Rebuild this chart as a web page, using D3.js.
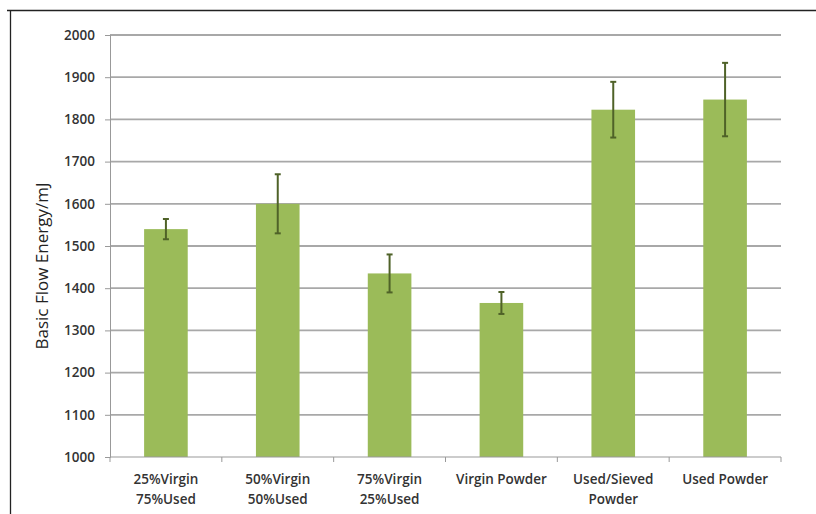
<!DOCTYPE html>
<html>
<head>
<meta charset="utf-8">
<script src="https://cdn.jsdelivr.net/npm/d3@7"></script>
<style>
  html, body { margin: 0; padding: 0; background: #fff; }
  svg { display: block; }
</style>
</head>
<body>
<svg id="chart" width="816" height="514"></svg>
<script>
const categories = [
  ["25%Virgin", "75%Used"],
  ["50%Virgin", "50%Used"],
  ["75%Virgin", "25%Used"],
  ["Virgin Powder"],
  ["Used/Sieved", "Powder"],
  ["Used Powder"]
];
const values = [1540, 1600, 1435, 1365, 1823, 1847];
const errors = [24, 70, 45, 26, 66, 87];
const yTicks = [1000, 1100, 1200, 1300, 1400, 1500, 1600, 1700, 1800, 1900, 2000];
const yTitle = "Basic Flow Energy/mJ";

const svg = d3.select("#chart");
const W = 816, H = 514;
const margin = { left: 110, right: 35, top: 35, bottom: 57 };
const x0 = margin.left, x1 = W - margin.right;
const yTop = margin.top, yBot = H - margin.bottom;

// frame lines (top and left)
svg.append("line").attr("x1", 7).attr("x2", W).attr("y1", 10.5).attr("y2", 10.5)
  .attr("stroke", "#222").attr("stroke-width", 1.3);
svg.append("line").attr("x1", 10.5).attr("x2", 10.5).attr("y1", 10).attr("y2", H)
  .attr("stroke", "#222").attr("stroke-width", 1.3);

const idx = categories.map((d, i) => i);
const x = d3.scaleBand().domain(idx).range([x0, x1]).paddingInner(0.61).paddingOuter(0.305);
const xb = d3.scaleBand().domain(idx).range([x0, x1]);
const y = d3.scaleLinear().domain([1000, 2000]).range([yBot, yTop]);

// gridlines
svg.append("g").selectAll("line").data(yTicks.filter(t => t > 1000)).join("line")
  .attr("x1", x0).attr("x2", x1)
  .attr("y1", d => y(d)).attr("y2", d => y(d))
  .attr("stroke", "#a8a8a8").attr("stroke-width", 1.8);

// y axis
const yAxis = d3.axisLeft(y).tickValues(yTicks).tickSize(5).tickPadding(10).tickFormat(d3.format("d"));
const gy = svg.append("g").attr("transform", `translate(${x0},0)`).call(yAxis);
gy.select(".domain").attr("stroke", "#999").attr("stroke-width", 1);
gy.selectAll(".tick line").attr("stroke", "#999");
gy.selectAll(".tick text").attr("fill", "#333")
  .style("font-family", "'Open Sans', 'Liberation Sans', sans-serif")
  .style("font-size", "13.5px").style("font-weight", "600");

// bars
svg.append("g").selectAll("rect").data(values).join("rect")
  .attr("x", (d, i) => x(i))
  .attr("width", x.bandwidth())
  .attr("y", d => y(d))
  .attr("height", d => yBot - y(d))
  .attr("fill", "#9bbb59");

// x axis (baseline + ticks at band boundaries)
const gx = svg.append("g");
gx.append("line").attr("x1", x0).attr("x2", x1).attr("y1", yBot).attr("y2", yBot)
  .attr("stroke", "#999").attr("stroke-width", 1.2);
const bounds = idx.map(i => xb(i)).concat([x1]);
gx.selectAll("line.tk").data(bounds).join("line").attr("class", "tk")
  .attr("x1", d => d).attr("x2", d => d).attr("y1", yBot).attr("y2", yBot + 5)
  .attr("stroke", "#999");

// x labels
const lab = svg.append("g").selectAll("text").data(categories).join("text")
  .attr("text-anchor", "middle")
  .attr("fill", "#333")
  .style("font-family", "'Open Sans', 'Liberation Sans', sans-serif")
  .style("font-size", "13.5px").style("font-weight", "600");
lab.each(function (d, i) {
  const t = d3.select(this);
  d.forEach((line, j) => {
    t.append("tspan").attr("x", xb(i) + xb.bandwidth() / 2).attr("y", 484 + j * 20).text(line);
  });
});

// error bars
const eb = svg.append("g").attr("stroke", "#4f6228");
values.forEach((v, i) => {
  const cx = x(i) + x.bandwidth() / 2;
  eb.append("line").attr("x1", cx).attr("x2", cx)
    .attr("y1", y(v + errors[i])).attr("y2", y(v - errors[i])).attr("stroke-width", 2);
  [v + errors[i], v - errors[i]].forEach(e => {
    eb.append("line").attr("x1", cx - 3).attr("x2", cx + 3)
      .attr("y1", y(e)).attr("y2", y(e)).attr("stroke-width", 2);
  });
});

// y title
svg.append("text")
  .attr("transform", `translate(48, 266) rotate(-90)`)
  .attr("text-anchor", "middle")
  .attr("fill", "#222")
  .style("font-family", "'Open Sans', 'Liberation Sans', sans-serif")
  .style("font-size", "17px")
  .text(yTitle);
</script>
</body>
</html>
